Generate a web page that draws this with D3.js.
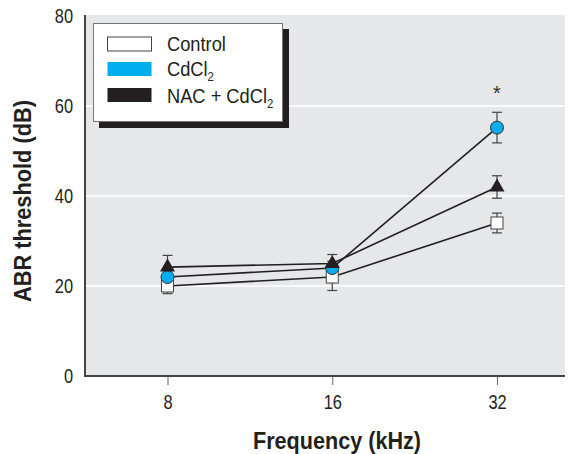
<!DOCTYPE html>
<html>
<head>
<meta charset="utf-8">
<script src="https://cdn.jsdelivr.net/npm/d3@7"></script>
<style>
  html, body { margin: 0; padding: 0; background: #fff; }
  svg { display: block; }
  text { font-family: "Liberation Sans", Arial, sans-serif; }
</style>
</head>
<body>
<svg id="chart" width="575" height="454"></svg>
<script>
// ---- Data ----
const categories = ["8", "16", "32"];
const yTicks = [0, 20, 40, 60, 80];
const controlMean = [20, 22, 34];
const controlErr = [1.7, 3, 2.2];
const cdMean = [22, 24, 55.2];
const cdErr = [1.5, 1.5, 3.4];
const nacMean = [24.2, 25, 42];
const nacErr = [2.6, 2, 2.5];
const legendLabels = ["Control", "CdCl", "NAC + CdCl"];
const legendSubs = ["", "2", "2"];

// ---- Layout ----
const svg = d3.select("#chart");
const plotLeft = 85, plotRight = 565, plotTop = 15, plotBottom = 376;
const condense = 0.82; // emulate a condensed typeface

const x = d3.scalePoint().domain(categories).range([167.5, 497]);
const y = d3.scaleLinear().domain([0, 80]).range([plotBottom, 16]);

const colors = { control: "#ffffff", cd: "#00aeef", nac: "#231f20" };
const ink = "#231f20";

function squeeze(sel) {
  sel.each(function () {
    const len = this.getComputedTextLength();
    d3.select(this).attr("textLength", len * condense).attr("lengthAdjust", "spacingAndGlyphs");
  });
}

// Background
svg.append("rect")
  .attr("x", plotLeft).attr("y", plotTop)
  .attr("width", plotRight - plotLeft).attr("height", plotBottom - plotTop)
  .attr("fill", "#e6e7e8");

// Gridlines
svg.append("g").selectAll("line")
  .data(yTicks.filter(d => d > 0 && d < 80))
  .join("line")
  .attr("x1", plotLeft).attr("x2", plotRight)
  .attr("y1", d => y(d)).attr("y2", d => y(d))
  .attr("stroke", "#ffffff").attr("stroke-width", 1.5);

// Y axis
const yAxis = d3.axisLeft(y).tickValues(yTicks).tickSize(0).tickPadding(12);
const gy = svg.append("g").attr("transform", `translate(${plotLeft},0)`).call(yAxis)
  .attr("font-family", null).attr("font-size", null);
gy.select(".domain").remove();
gy.selectAll("text").attr("font-size", 20).attr("fill", "#231f20").call(squeeze);
svg.append("line")
  .attr("x1", plotLeft).attr("x2", plotLeft)
  .attr("y1", plotTop).attr("y2", plotBottom)
  .attr("stroke", "#444").attr("stroke-width", 2);

// X axis
const xAxis = d3.axisBottom(x).tickSize(9).tickPadding(10);
const gx = svg.append("g").attr("transform", `translate(0,${plotBottom})`).call(xAxis)
  .attr("font-family", null).attr("font-size", null);
gx.select(".domain").remove();
gx.selectAll("line").attr("stroke", "#666").attr("stroke-width", 1);
gx.selectAll("text").attr("font-size", 20).attr("fill", "#231f20").call(squeeze);
svg.append("line")
  .attr("x1", plotLeft - 1).attr("x2", plotRight)
  .attr("y1", plotBottom).attr("y2", plotBottom)
  .attr("stroke", "#444").attr("stroke-width", 2);

// Axis titles
svg.append("text")
  .attr("x", 337).attr("y", 449)
  .attr("text-anchor", "middle")
  .attr("font-size", 24).attr("font-weight", "bold").attr("fill", "#231f20")
  .attr("textLength", 168).attr("lengthAdjust", "spacingAndGlyphs")
  .text("Frequency (kHz)");
svg.append("text")
  .attr("transform", "translate(31,201) rotate(-90)")
  .attr("text-anchor", "middle")
  .attr("font-size", 24).attr("font-weight", "bold").attr("fill", "#231f20")
  .attr("textLength", 202).attr("lengthAdjust", "spacingAndGlyphs")
  .text("ABR threshold (dB)");

// Series
const series = [
  { key: "control", mean: controlMean, err: controlErr },
  { key: "cd", mean: cdMean, err: cdErr },
  { key: "nac", mean: nacMean, err: nacErr }
];

const line = d3.line().x(d => x(d.c)).y(d => y(d.v));
series.forEach(s => {
  const pts = categories.map((c, i) => ({ c, v: s.mean[i], e: s.err[i] }));
  s.pts = pts;
  svg.append("path").datum(pts)
    .attr("d", line).attr("fill", "none")
    .attr("stroke", ink).attr("stroke-width", 1.6);
});

// Error bars
series.forEach(s => {
  const g = svg.append("g").attr("stroke", "#444").attr("stroke-width", 1.2);
  s.pts.forEach(p => {
    const cx = x(p.c);
    g.append("line").attr("x1", cx).attr("x2", cx).attr("y1", y(p.v - p.e)).attr("y2", y(p.v + p.e));
    g.append("line").attr("x1", cx - 5).attr("x2", cx + 5).attr("y1", y(p.v - p.e)).attr("y2", y(p.v - p.e));
    g.append("line").attr("x1", cx - 5).attr("x2", cx + 5).attr("y1", y(p.v + p.e)).attr("y2", y(p.v + p.e));
  });
});

// Markers
const control = series[0], cd = series[1], nac = series[2];
svg.append("g").selectAll("rect").data(control.pts).join("rect")
  .attr("x", d => x(d.c) - 6).attr("y", d => y(d.v) - 6)
  .attr("width", 12).attr("height", 12)
  .attr("fill", colors.control).attr("stroke", "#444").attr("stroke-width", 1);
svg.append("g").selectAll("circle").data(cd.pts).join("circle")
  .attr("cx", d => x(d.c)).attr("cy", d => y(d.v)).attr("r", 6.5)
  .attr("fill", colors.cd).attr("stroke", "#333").attr("stroke-width", 1);
svg.append("g").selectAll("path").data(nac.pts).join("path")
  .attr("d", d => {
    const cx = x(d.c), cy = y(d.v);
    return `M${cx},${cy - 8.5}L${cx + 7.5},${cy + 4.5}L${cx - 7.5},${cy + 4.5}Z`;
  })
  .attr("fill", colors.nac);

// Significance asterisk
svg.append("text")
  .attr("x", x("32")).attr("y", 100)
  .attr("text-anchor", "middle").attr("font-size", 20).attr("fill", "#333")
  .text("*");

// Legend
const lg = svg.append("g");
lg.append("rect").attr("x", 99).attr("y", 29).attr("width", 190).attr("height", 99).attr("fill", ink);
lg.append("rect").attr("x", 93.5).attr("y", 23.5).attr("width", 189).attr("height", 98)
  .attr("fill", "#fff").attr("stroke", "#777").attr("stroke-width", 1);
const legendFills = [colors.control, colors.cd, colors.nac];
const rowY = [44, 69, 95];
legendLabels.forEach((lab, i) => {
  lg.append("rect").attr("x", 107.5).attr("y", rowY[i] - 7).attr("width", 44).attr("height", 14)
    .attr("fill", legendFills[i]).attr("stroke", i === 0 ? "#444" : "none").attr("stroke-width", 1);
  const base = rowY[i] + 6.5 + (i === 2 ? 1 : 0);
  const t = lg.append("text")
    .attr("transform", `translate(167,${base}) scale(0.87,1)`)
    .attr("font-size", 21).attr("fill", "#231f20");
  t.append("tspan").text(lab);
  if (legendSubs[i]) {
    t.append("tspan").attr("dy", 5).attr("font-size", 13).text(legendSubs[i]);
  }
});
</script>
</body>
</html>
